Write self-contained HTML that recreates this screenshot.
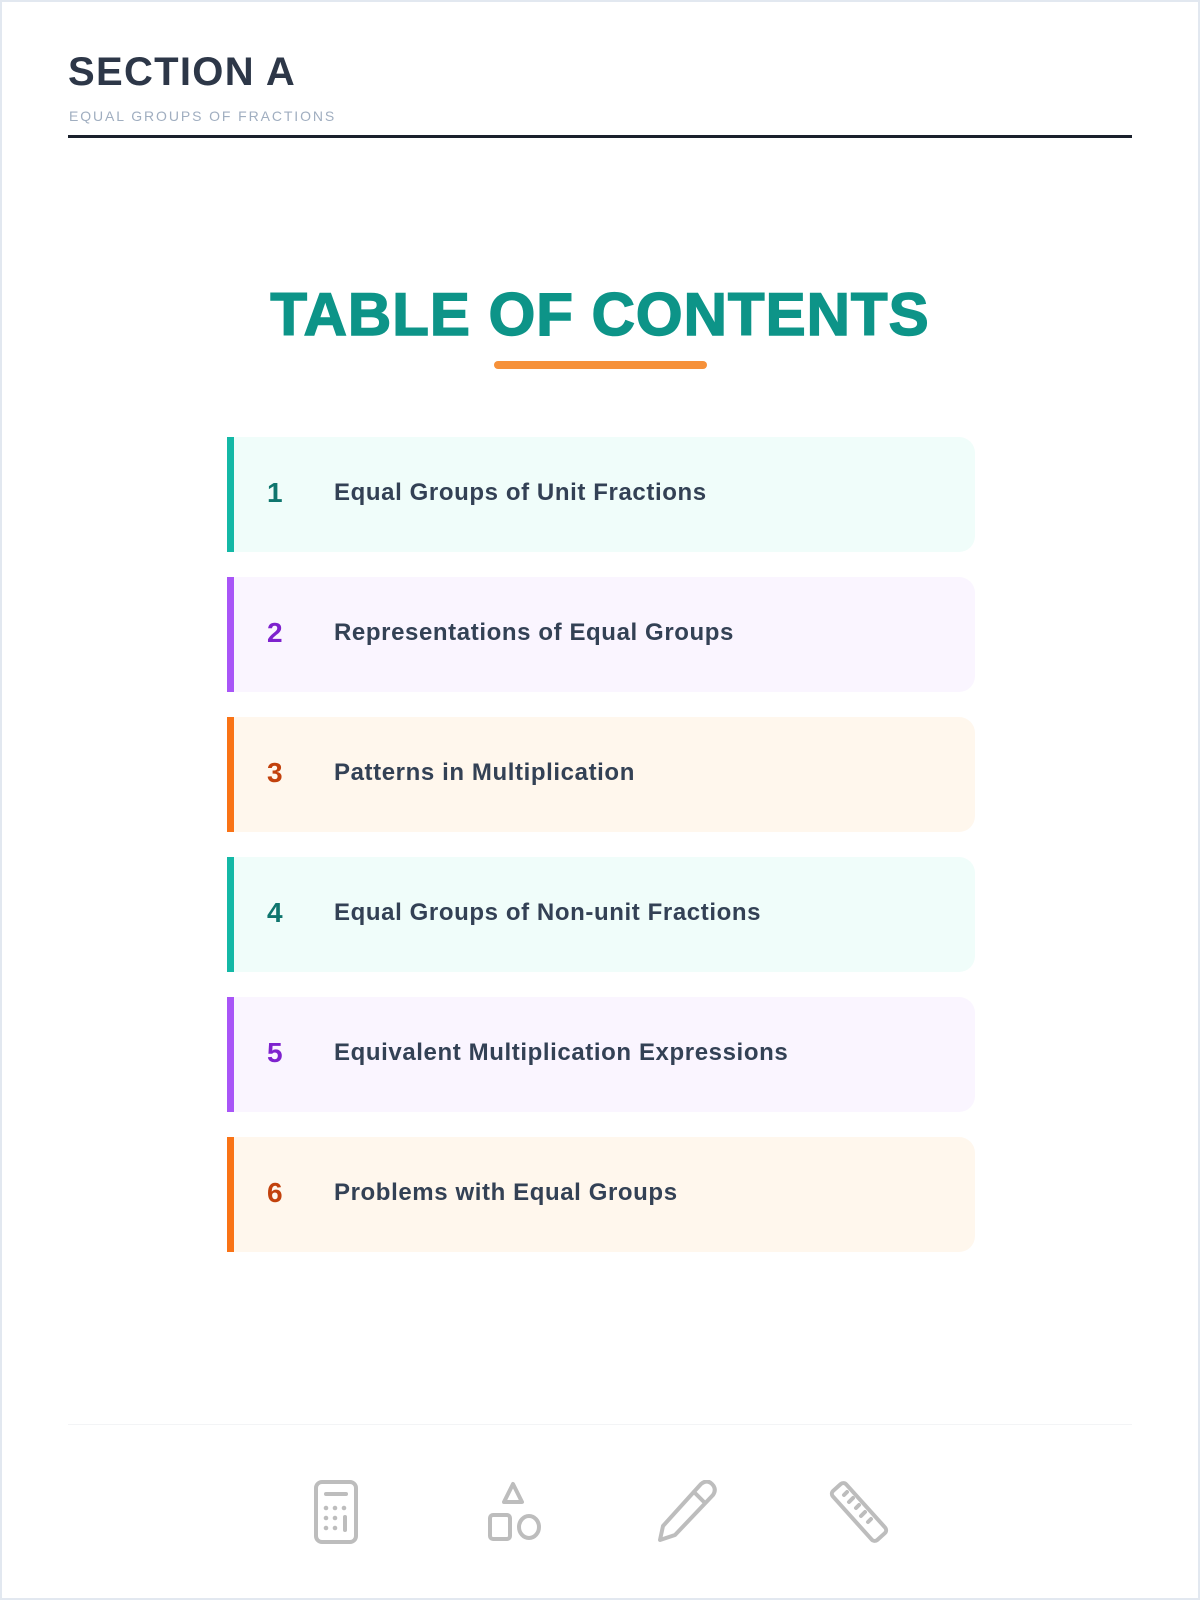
<!DOCTYPE html>
<html><head><meta charset="utf-8"><style>
*{margin:0;padding:0;box-sizing:border-box}
body{width:1200px;height:1600px;background:#fff;font-family:"Liberation Sans",sans-serif;position:relative;overflow:hidden}
.frame{position:absolute;left:0;top:0;width:1200px;height:1600px;border:2px solid #e2e8f0}
.h1{position:absolute;left:68px;top:50px;font-size:40px;font-weight:bold;color:#2d3748;letter-spacing:1.3px}
.sub{position:absolute;left:69px;top:108px;font-size:14px;color:#a0aec0;letter-spacing:1.9px}
.rule{position:absolute;left:68px;top:135px;width:1064px;height:3px;background:#1a202c}
.title{position:absolute;left:0;width:1200px;top:280px;text-align:center;font-size:60px;font-weight:bold;color:#0d9488;letter-spacing:1px;-webkit-text-stroke:1.5px #0d9488}
.ul{position:absolute;left:494px;top:361px;width:213px;height:8px;border-radius:4px;background:#f6913a}
.card{position:absolute;left:227px;width:748px;height:115px;border-radius:0 16px 16px 0;border-left:7px solid}
.card .n{position:absolute;left:33px;top:40px;font-size:28px;font-weight:bold}
.card .t{position:absolute;left:100px;top:42px;font-size:24px;font-weight:bold;color:#334155;letter-spacing:0.6px}
.a{background:#f0fdfa;border-color:#14b8a6}.a .n{color:#0f766e}
.b{background:#faf5ff;border-color:#a855f7}.b .n{color:#7e22ce}
.c{background:#fff7ed;border-color:#f97316}.c .n{color:#c2410c}
.fr{position:absolute;left:68px;top:1424px;width:1064px;height:1px;background:#f3f4f6}
svg{position:absolute;top:1480px}
</style></head><body>
<div class="frame"></div>
<div class="h1">SECTION A</div>
<div class="sub">EQUAL GROUPS OF FRACTIONS</div>
<div class="rule"></div>
<div class="title">TABLE OF CONTENTS</div>
<div class="ul"></div>
<div class="card a" style="top:437px"><span class="n">1</span><span class="t">Equal Groups of Unit Fractions</span></div>
<div class="card b" style="top:577px"><span class="n">2</span><span class="t">Representations of Equal Groups</span></div>
<div class="card c" style="top:717px"><span class="n">3</span><span class="t">Patterns in Multiplication</span></div>
<div class="card a" style="top:857px"><span class="n">4</span><span class="t">Equal Groups of Non-unit Fractions</span></div>
<div class="card b" style="top:997px"><span class="n">5</span><span class="t">Equivalent Multiplication Expressions</span></div>
<div class="card c" style="top:1137px"><span class="n">6</span><span class="t">Problems with Equal Groups</span></div>
<div class="fr"></div>
<svg style="left:310px" width="64" height="64" viewBox="0 0 64 64" fill="none" stroke="#bdbdbd" stroke-width="4" stroke-linecap="round" stroke-linejoin="round">
<rect x="6" y="2" width="40" height="60" rx="6"/><line x1="16" y1="14" x2="36" y2="14"/>
<g fill="#bdbdbd" stroke="none"><circle cx="16" cy="28" r="2.3"/><circle cx="25" cy="28" r="2.3"/><circle cx="34" cy="28" r="2.3"/><circle cx="16" cy="38" r="2.3"/><circle cx="25" cy="38" r="2.3"/><circle cx="16" cy="48" r="2.3"/><circle cx="25" cy="48" r="2.3"/></g>
<line x1="35" y1="37" x2="35" y2="50"/></svg>
<svg style="left:484px" width="64" height="64" viewBox="0 0 64 64" fill="none" stroke="#bdbdbd" stroke-width="4" stroke-linejoin="round">
<path d="M29 4 L38 22 L20 22 Z"/><rect x="6" y="35" width="20" height="24" rx="3"/><ellipse cx="45" cy="47" rx="10" ry="11"/></svg>
<svg style="left:655px" width="64" height="64" viewBox="0 0 64 64" fill="none" stroke="#bdbdbd" stroke-width="4" stroke-linecap="round" stroke-linejoin="round">
<path d="M5 60 L8 46 L46 4 Q52 -1 57 4 Q62 9 58 15 L20 55 Z"/><line x1="39" y1="12" x2="50" y2="23"/></svg>
<svg style="left:827px" width="64" height="64" viewBox="0 0 64 64" fill="none" stroke="#bdbdbd" stroke-width="4" stroke-linecap="round" stroke-linejoin="round">
<rect x="-1" y="23" width="66" height="18" rx="4" transform="rotate(48 32 32)"/><path d="M20 12 L17 15 M26 18 L22 22 M32 25 L29 28 M38 32 L34 36 M44 39 L41 42"/></svg>
</body></html>
